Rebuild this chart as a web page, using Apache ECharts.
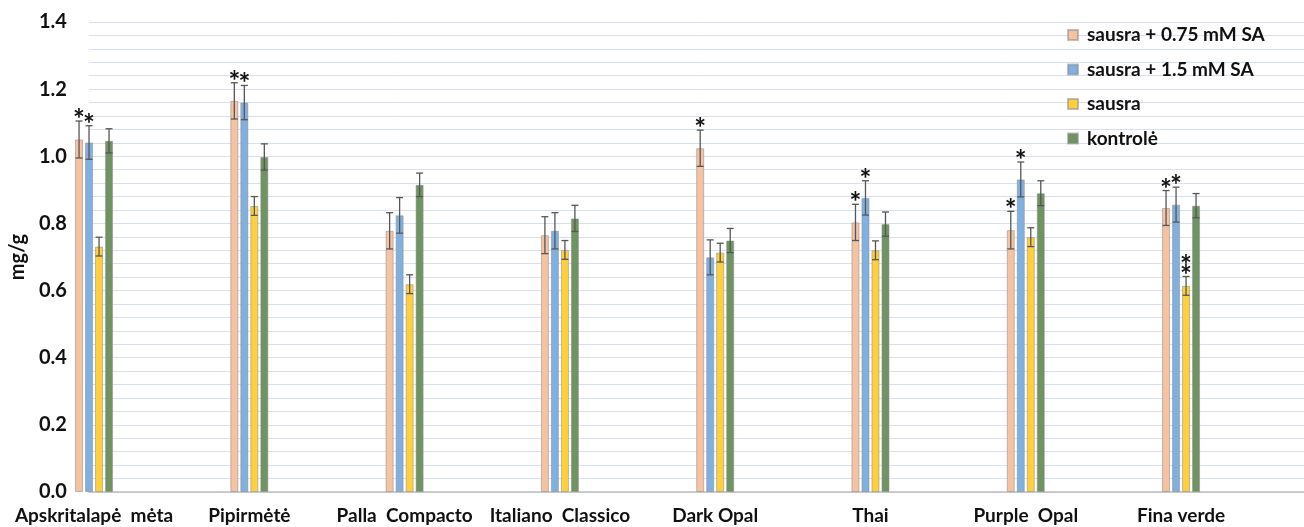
<!DOCTYPE html>
<html>
<head>
<meta charset="utf-8">
<script src="https://cdn.jsdelivr.net/npm/echarts@6/dist/echarts.min.js"></script>
<style>
  html, body { margin: 0; padding: 0; background: #ffffff; }
  #chart { width: 1304px; height: 527px; }
</style>
</head>
<body>
<div id="chart"></div>
<script>
// Cultivars (x categories)
const categories = ['Apskritalapė  mėta', 'Pipirmėtė', 'Palla  Compacto', 'Italiano  Classico',
                    'Dark Opal', 'Thai', 'Purple  Opal', 'Fina verde'];

// Series names
const seriesNames = ['sausra + 0.75 mM SA', 'sausra + 1.5 mM SA', 'sausra', 'kontrolė'];

// Means (mg/g)
const sa075    = [1.050, 1.165, 0.778, 0.765, 1.024, 0.803, 0.780, 0.846];
const sa15     = [1.041, 1.160, 0.824, 0.778, 0.699, 0.876, 0.931, 0.856];
const sausra   = [0.731, 0.852, 0.619, 0.721, 0.713, 0.720, 0.759, 0.614];
const kontrole = [1.046, 0.998, 0.915, 0.815, 0.749, 0.798, 0.890, 0.853];

// Error bar half-widths (mg/g)
const sa075Err    = [0.055, 0.054, 0.054, 0.055, 0.054, 0.054, 0.056, 0.052];
const sa15Err     = [0.050, 0.051, 0.053, 0.054, 0.052, 0.051, 0.052, 0.052];
const sausraErr   = [0.028, 0.028, 0.028, 0.028, 0.028, 0.028, 0.028, 0.028];
const kontroleErr = [0.036, 0.039, 0.035, 0.039, 0.036, 0.036, 0.037, 0.036];

// Number of significance asterisks above each bar
const sa075Sig    = [1, 1, 0, 0, 1, 1, 1, 1];
const sa15Sig     = [1, 1, 0, 0, 0, 1, 1, 1];
const sausraSig   = [0, 0, 0, 0, 0, 0, 0, 2];
const kontroleSig = [0, 0, 0, 0, 0, 0, 0, 0];

// Y axis range
const yMin = 0, yMax = 1.4, yStep = 0.2;

const colors = ['#F5C3A1', '#80B0E0', '#FFD03C', '#6F9462'];
const FONT = 'Lato, "Liberation Sans", sans-serif';

const BAR_W = 8, BAR_PITCH = 10;
const offsets = [-1.5, -0.5, 0.5, 1.5].map(k => k * BAR_PITCH);

const values = [sa075, sa15, sausra, kontrole];
const errs = [sa075Err, sa15Err, sausraErr, kontroleErr];
const sigs = [sa075Sig, sa15Sig, sausraSig, kontroleSig];

function barSeries(idx) {
  return {
    name: seriesNames[idx],
    type: 'bar',
    xAxisIndex: 1,
    yAxisIndex: 1,
    barWidth: BAR_W,
    barGap: '25%',
    data: values[idx],
    itemStyle: { color: colors[idx], borderColor: 'rgba(140,140,140,0.55)', borderWidth: 1 },
    silent: true
  };
}

function errorSeries(idx) {
  return {
    type: 'custom',
    xAxisIndex: 1,
    yAxisIndex: 1,
    z: 5,
    silent: true,
    data: values[idx].map((v, i) => [i, v, errs[idx][i], sigs[idx][i]]),
    renderItem(params, api) {
      const i = api.value(0), v = api.value(1), e = api.value(2), n = api.value(3);
      const x = api.coord([i, v])[0] + offsets[idx];
      const yTop = api.coord([i, v + e])[1];
      const yBot = api.coord([i, v - e])[1];
      const st = { stroke: '#565656', lineWidth: 1.3 };
      const children = [
        { type: 'line', shape: { x1: x, y1: yTop, x2: x, y2: yBot }, style: st },
        { type: 'line', shape: { x1: x - 3.5, y1: yTop, x2: x + 3.5, y2: yTop }, style: st },
        { type: 'line', shape: { x1: x - 3.5, y1: yBot, x2: x + 3.5, y2: yBot }, style: st }
      ];
      for (let k = 0; k < n; k++) {
        children.push({
          type: 'text',
          style: {
            text: '*', x: x, y: yTop - 1 - k * 10,
            align: 'center', verticalAlign: 'middle',
            fontSize: 28, fontWeight: 'bold', fontFamily: FONT, fill: '#111111'
          }
        });
      }
      return { type: 'group', children };
    }
  };
}

const gridStyle = { color: '#D7DFF0', width: 1 };

const option = {
  animation: false,
  backgroundColor: '#ffffff',
  grid: [
    { left: 75, right: 0, top: 22, bottom: 35 },
    { left: 16.4, right: 45.3, top: 22, bottom: 35 }
  ],
  legend: {
    orient: 'vertical',
    left: 1062,
    top: 20,
    itemWidth: 10,
    itemHeight: 10,
    itemGap: 14.5,
    icon: 'rect',
    data: seriesNames,
    textStyle: { fontFamily: FONT, fontWeight: 'bold', fontSize: 19, color: '#111111', lineHeight: 20, padding: [0, 0, 0, 4] }
  },
  xAxis: [
    {
      gridIndex: 0, type: 'category', data: categories,
      axisLine: { show: true, lineStyle: { color: '#BFBFBF', width: 1.5 } },
      axisTick: { show: false }, axisLabel: { show: false }, splitLine: { show: false }
    },
    {
      gridIndex: 1, type: 'category', data: categories,
      axisLine: { show: false }, axisTick: { show: false },
      axisLabel: { interval: 0, margin: 14, fontFamily: FONT, fontWeight: 'bold', fontSize: 19, color: '#111111' }
    }
  ],
  yAxis: [
    {
      gridIndex: 0, type: 'value', min: yMin, max: yMax, interval: yStep,
      name: 'mg/g', nameLocation: 'middle', nameGap: 50, nameRotate: 90,
      nameTextStyle: { fontFamily: FONT, fontWeight: 'bold', fontSize: 20, color: '#111111' },
      axisLine: { show: false }, axisTick: { show: false },
      axisLabel: { margin: 22, fontFamily: FONT, fontWeight: 'bold', fontSize: 20, color: '#111111',
                   formatter: v => v.toFixed(1) },
      splitLine: { show: true, lineStyle: gridStyle },
      minorTick: { show: false, splitNumber: 5 },
      minorSplitLine: { show: true, lineStyle: gridStyle }
    },
    { gridIndex: 1, type: 'value', min: yMin, max: yMax, interval: yStep, show: false, splitLine: { show: false } }
  ],
  series: [0, 1, 2, 3].map(barSeries).concat([0, 1, 2, 3].map(errorSeries))
};

const chart = echarts.init(document.getElementById('chart'), null, { renderer: 'canvas' });
chart.setOption(option);
</script>
</body>
</html>
